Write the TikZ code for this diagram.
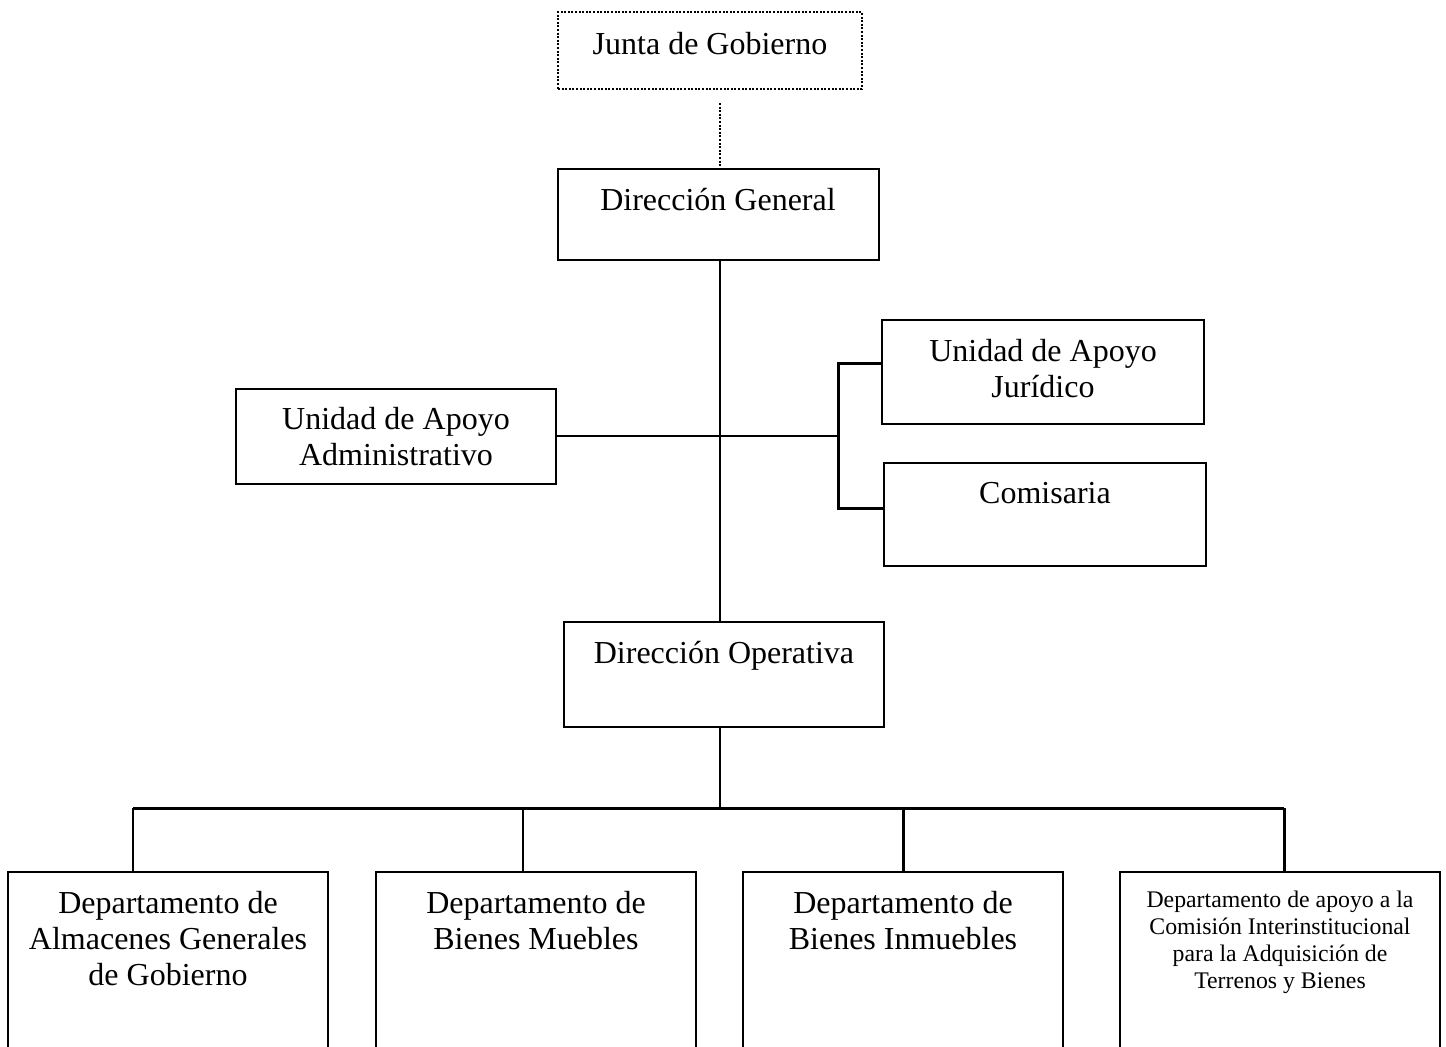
\documentclass[tikz,border=0pt]{standalone}
\usepackage{fontspec}
\setmainfont{Liberation Serif}
\begin{document}
\begin{tikzpicture}[x=1pt,y=-1pt,
  box/.style={draw, line width=1.8pt, inner sep=0pt, outer sep=0pt, anchor=north west},
  dotbox/.style={box, dash pattern=on 2pt off 1.6pt},
  conn/.style={line width=2.2pt},
  thickconn/.style={line width=3pt},
  dotconn/.style={line width=1.6pt, dash pattern=on 2pt off 1.6pt},
  big/.style={font=\fontsize{32}{36}\selectfont, align=center, inner sep=0pt, anchor=base},
  small/.style={font=\fontsize{23.8}{27}\selectfont, align=center, inner sep=0pt, anchor=base}]
\useasboundingbox (0,0) rectangle (1446,1047);
\clip (0,0) rectangle (1446,1047);

% boxes
\node[dotbox, minimum width=304pt, minimum height=77pt] (jg) at (558,12) {};
\node[box, minimum width=321pt, minimum height=91pt] (dg) at (558,169) {};
\node[box, minimum width=320pt, minimum height=95pt] (adm) at (236,389) {};
\node[box, minimum width=322pt, minimum height=104pt] (jur) at (882,320) {};
\node[box, minimum width=322pt, minimum height=103pt] (com) at (884,463) {};
\node[box, minimum width=320pt, minimum height=105pt] (do) at (564,622) {};
\node[box, minimum width=320pt, minimum height=220pt] (d1) at (8,872) {};
\node[box, minimum width=320pt, minimum height=220pt] (d2) at (376,872) {};
\node[box, minimum width=320pt, minimum height=220pt] (d3) at (743,872) {};
\node[box, minimum width=320pt, minimum height=220pt] (d4) at (1120,872) {};

% texts (anchor=base is the baseline of the last line)
\node[big] (jgt) at (710,54) {Junta de Gobierno};
\node[big] (dgt) at (718,210) {Dirección General};
\node[big] (admt) at (396,465) {Unidad de Apoyo\\Administrativo};
\node[big] (jurt) at (1043,397) {Unidad de Apoyo\\Jurídico};
\node[big] (comt) at (1045,503) {Comisaria};
\node[big] (dot) at (724,663) {Dirección Operativa};
\node[big] (d1t) at (168,985) {Departamento de\\Almacenes Generales\\de Gobierno};
\node[big] (d2t) at (536,949) {Departamento de\\Bienes Muebles};
\node[big] (d3t) at (903,949) {Departamento de\\Bienes Inmuebles};
\node[small] (d4t) at (1280,988) {Departamento de apoyo a la\\Comisión Interinstitucional\\para la Adquisición de\\Terrenos y Bienes};

% connectors
\coordinate (dtop) at (720,103);
\draw[dotconn] (dtop) -- (dtop |- dg.north);
\coordinate (spine) at (720,0);
\draw[conn] (dg.south -| spine) -- (do.north -| spine);
\coordinate (br) at (838,436);
\draw[conn] (adm.east |- br) -- (br);
\coordinate (bt) at (838,363);
\coordinate (bb) at (838,508);
\draw[thickconn] (bt -| jur.west) -- (bt) -- (bb) -- (bb -| com.west);
\coordinate (bus) at (720,808);
\draw[conn] (do.south -| bus) -- (bus);
\coordinate (b1) at (133,808);
\coordinate (b2) at (523,808);
\coordinate (b3) at (903,808);
\coordinate (b4) at (1284,808);
\draw[thickconn] (b1) -- (b4);
\draw[conn] (b1) -- (b1 |- d1.north);
\draw[conn] (b2) -- (b2 |- d2.north);
\draw[thickconn] (b3) -- (b3 |- d3.north);
\draw[thickconn] (b4) -- (b4 |- d4.north);
\end{tikzpicture}
\end{document}
